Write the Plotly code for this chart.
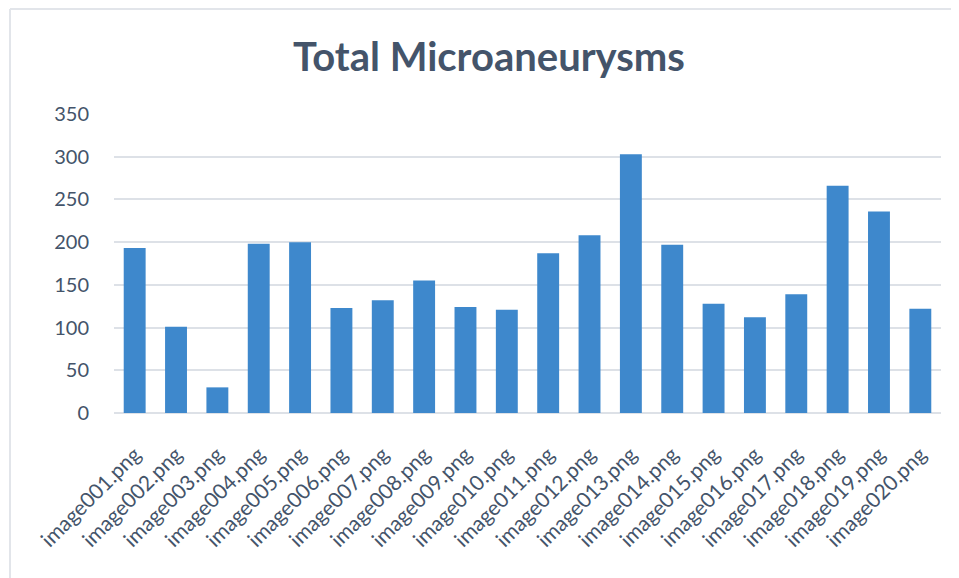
import plotly.graph_objects as go

categories = [f"image{i:03d}.png" for i in range(1, 21)]
values = [193, 101, 30, 198, 200, 123, 132, 155, 124, 121,
          187, 208, 303, 197, 128, 112, 139, 266, 236, 122]
y_ticks = [0, 50, 100, 150, 200, 250, 300, 350]

text_color = "#44546a"
grid_color = "#dde1e7"

# page body adds an 8px offset; layout below is expressed in figure coords
W, H = 951, 570
L, R, T, B = 106, 933, 106, 405

fig = go.Figure(go.Bar(
    x=categories, y=values,
    marker=dict(color="#3e88cc", line=dict(width=0)),
))

fig.update_layout(
    width=W, height=H,
    margin=dict(l=L, r=W - R, t=T, b=H - B),
    paper_bgcolor="white", plot_bgcolor="white",
    bargap=0.47,
    showlegend=False,
    title=dict(text="<b>Total Microaneurysms</b>", x=481 / W, xanchor="center",
               y=1 - 49 / H, yanchor="middle",
               font=dict(family="Lato", size=40, color=text_color)),
    font=dict(family="Lato", color=text_color),
    xaxis=dict(tickangle=-45, tickfont=dict(size=21, color=text_color),
               showgrid=False, showline=False, ticks="", ticklen=0,
               ticklabelstandoff=24),
    yaxis=dict(range=[0, 350], tickvals=y_ticks, showgrid=True,
               gridcolor=grid_color, gridwidth=1.5, zeroline=True,
               zerolinecolor=grid_color, zerolinewidth=1.5,
               tickfont=dict(size=20, color=text_color), ticks="",
               ticklabelstandoff=24),
    shapes=[
        dict(type="line", xref="paper", yref="paper",
             x0=(2 - L) / (R - L), x1=(W - L) / (R - L),
             y0=1 + (T - 1) / (B - T), y1=1 + (T - 1) / (B - T),
             line=dict(color="#e2e5ea", width=2)),
        dict(type="line", xref="paper", yref="paper",
             x0=(2 - L) / (R - L), x1=(2 - L) / (R - L),
             y0=1 + (T - 1) / (B - T), y1=-(H - B) / (B - T),
             line=dict(color="#e2e5ea", width=2)),
    ],
)

fig.write_html("out.html")
